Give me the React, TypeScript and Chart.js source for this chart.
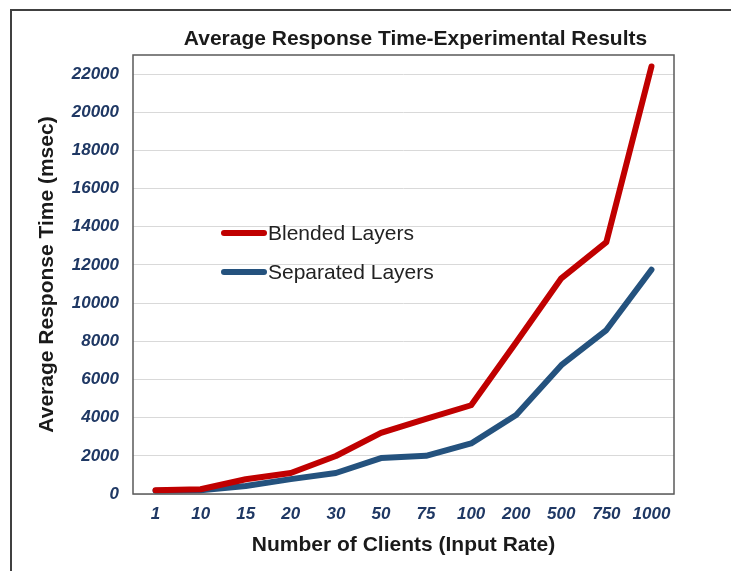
import React, { useEffect, useRef } from "react";
import { Chart, registerables } from "chart.js";

Chart.register(...registerables);

const categories = ["1", "10", "15", "20", "30", "50", "75", "100", "200", "500", "750", "1000"];
const blendedLayers = [200, 250, 770, 1100, 1990, 3200, 3930, 4650, 7950, 11300, 13200, 22400];
const separatedLayers = [170, 200, 420, 780, 1100, 1880, 2000, 2650, 4140, 6750, 8590, 11750];
const yTickValues = [0, 2000, 4000, 6000, 8000, 10000, 12000, 14000, 16000, 18000, 20000, 22000];
const seriesNames = ["Blended Layers", "Separated Layers"];
const seriesColors = ["#C00000", "#24527E"];
const chartTitle = "Average Response Time-Experimental Results";
const xTitle = "Number of Clients (Input Rate)";
const yTitle = "Average Response Time (msec)";

const W = 731;
const H = 563;
const AREA_LEFT = 125;
const AREA_TOP = 47;
const AREA_RIGHT = 666;
const AREA_BOTTOM = 486;
const FONT = "'Liberation Sans', Arial, sans-serif";

const decorPlugin = {
  id: "decor",
  afterDatasetsDraw(chart: any) {
    const { ctx, chartArea } = chart;
    ctx.save();
    ctx.strokeStyle = "#5A5A5A";
    ctx.lineWidth = 1.5;
    ctx.strokeRect(chartArea.left, chartArea.top, chartArea.right - chartArea.left, chartArea.bottom - chartArea.top);
    ctx.fillStyle = "#1A1A1A";
    ctx.font = `bold 21px ${FONT}`;
    ctx.textAlign = "center";
    ctx.textBaseline = "middle";
    ctx.fillText(chartTitle, 407.5, 31);
    const ds = chart.data.datasets;
    const ys = [225, 264];
    ctx.textAlign = "left";
    ctx.font = `21px ${FONT}`;
    ds.forEach((d: any, i: number) => {
      ctx.strokeStyle = d.borderColor;
      ctx.lineWidth = 6;
      ctx.lineCap = "round";
      ctx.beginPath();
      ctx.moveTo(216, ys[i]);
      ctx.lineTo(256, ys[i]);
      ctx.stroke();
      ctx.fillStyle = "#222222";
      ctx.fillText(d.label, 260, ys[i] + 1);
    });
    ctx.restore();
  },
};

export default function App() {
  const ref = useRef<HTMLCanvasElement>(null);
  useEffect(() => {
    if (!ref.current) return;
    const chart = new Chart(ref.current, {
      type: "line",
      data: {
        labels: categories,
        datasets: [
          {
            label: seriesNames[0],
            data: blendedLayers,
            borderColor: seriesColors[0],
            backgroundColor: seriesColors[0],
            borderWidth: 6,
            pointRadius: 0,
            tension: 0,
            borderCapStyle: "round",
            borderJoinStyle: "round",
          },
          {
            label: seriesNames[1],
            data: separatedLayers,
            borderColor: seriesColors[1],
            backgroundColor: seriesColors[1],
            borderWidth: 6,
            pointRadius: 0,
            tension: 0,
            borderCapStyle: "round",
            borderJoinStyle: "round",
          },
        ],
      },
      options: {
        responsive: false,
        animation: false,
        layout: { padding: { top: AREA_TOP, right: W - AREA_RIGHT, left: 0, bottom: 0 } },
        plugins: {
          legend: { display: false },
          title: { display: false },
          tooltip: { enabled: false },
        },
        scales: {
          x: {
            offset: true,
            grid: { display: false, drawTicks: false },
            border: { display: false },
            ticks: {
              padding: 10,
              color: "#1F3864",
              font: { family: FONT, size: 17, weight: "bold", style: "italic" },
              maxRotation: 0,
              autoSkip: false,
            },
            title: {
              display: true,
              text: xTitle,
              color: "#1A1A1A",
              font: { family: FONT, size: 21, weight: "bold" },
              padding: { top: 0, bottom: 13 },
            },
            afterFit(scale: any) {
              scale.height = H - AREA_BOTTOM;
            },
          },
          y: {
            min: 0,
            max: 23000,
            bounds: "data",
            grid: { color: "#D9D9D9", lineWidth: 1, drawTicks: false },
            border: { display: false },
            afterBuildTicks(scale: any) {
              scale.ticks = yTickValues.map((v) => ({ value: v }));
            },
            ticks: {
              padding: 14,
              color: "#1F3864",
              font: { family: FONT, size: 17, weight: "bold", style: "italic" },
              callback: (v: any) => String(v),
            },
            title: {
              display: true,
              text: yTitle,
              color: "#1A1A1A",
              font: { family: FONT, size: 21, weight: "bold" },
              padding: { top: 27, bottom: 0 },
            },
            afterFit(scale: any) {
              scale.width = AREA_LEFT;
            },
          },
        },
      },
      plugins: [decorPlugin],
    } as any);
    return () => chart.destroy();
  }, []);

  return (
    <div style={{ position: "relative", width: W, height: H, overflow: "hidden", background: "#fff" }}>
      <canvas ref={ref} width={W} height={H} style={{ display: "block", width: W, height: H }} />
      <div
        style={{
          position: "absolute",
          left: 2,
          top: 1,
          width: 800,
          height: 700,
          borderLeft: "2px solid #404040",
          borderTop: "2px solid #404040",
          pointerEvents: "none",
        }}
      />
    </div>
  );
}
